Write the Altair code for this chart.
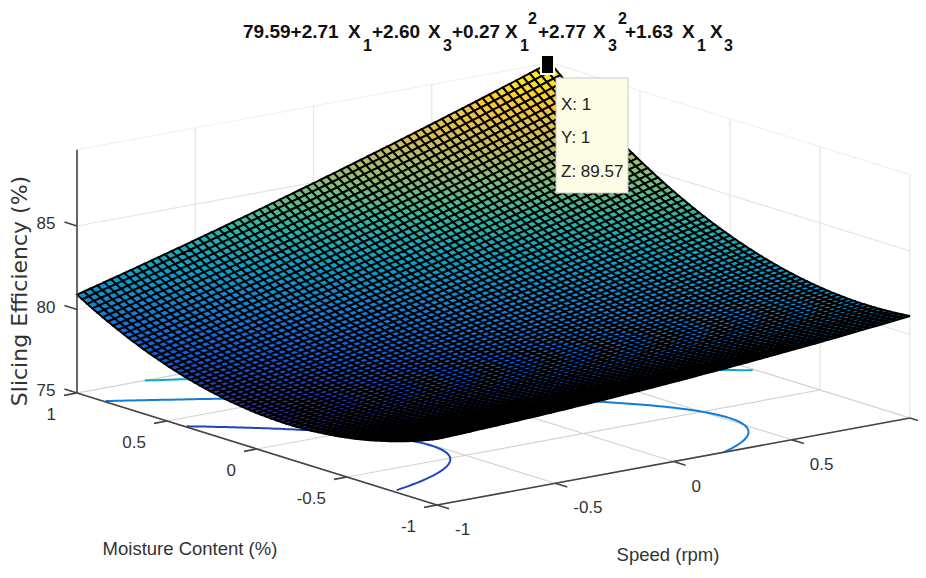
import altair as alt
import numpy as np
import pandas as pd

# Values: the surface is the equation printed in its title
COEF = [79.59, 2.71, 2.60, 0.27, 2.77, 1.63]
XY_TICKS = [-1, -0.5, 0, 0.5, 1]
Z_TICKS = [75, 80, 85]
Z_MIN, Z_MAX = 75, 89.57
CONTOUR_LEVELS = [78, 80, 82, 84, 86, 88]
N_CELLS = 70
DATATIP_LINES = ["X: 1", "Y: 1", "Z: 89.57"]
XY_LABELS = ["-1", "-0.5", "0", "0.5", "1"]
X_TITLE = "Speed (rpm)"
Y_TITLE = "Moisture Content (%)"
Z_TITLE = "Slicing Efficiency (%)"
PARULA_POS = [0, .125, .25, .375, .5, .625, .75, .875, 1]
PARULA = ["#352a87", "#0f5cdd", "#1481d6", "#06a4ca", "#2eb7a4", "#87bf77", "#d1bb59", "#fec832", "#f9fb0e"]

W, H = 910, 562
SANS = "Liberation Sans"
INK = "#333333"


def zfun(u, v):
    c = COEF
    return c[0] + c[1]*u + c[2]*v + c[3]*u*u + c[4]*v*v + c[5]*u*v


def px(u, v):
    return 493.5 + 236.5*u - 180*v


def py(u, v, z=Z_MIN):
    return 405.5 - 43.5*u - 56*v - 16.7*(z - 75)


xs = alt.Scale(domain=[8, 8+W], range=[0, W], nice=False, zero=False)
ys = alt.Scale(domain=[8, 8+H], range=[0, H], nice=False, zero=False)
X = lambda f="x": alt.X(f"{f}:Q", scale=xs, axis=None)
Y = lambda f="y": alt.Y(f"{f}:Q", scale=ys, axis=None)
Z_DOM = 77.07
stops = [Z_DOM + p*(Z_MAX-Z_DOM) for p in PARULA_POS]
cscale = alt.Scale(domain=stops, range=PARULA, interpolate="rgb", clamp=True)


def segs(rows):
    return pd.DataFrame(rows, columns=["x", "y", "x2", "y2"])


def rule_layer(rows, color, width):
    return alt.Chart(segs(rows)).mark_rule(color=color, strokeWidth=width).encode(
        x=X("x"), y=Y("y"), x2="x2:Q", y2="y2:Q")


# floor grid, wall grid, faint wall tops
floor, walls = [], []
for t in XY_TICKS:
    floor.append([px(t, -1), py(t, -1), px(t, 1), py(t, 1)])
    floor.append([px(-1, t), py(-1, t), px(1, t), py(1, t)])
    walls.append([px(t, 1), py(t, 1), px(t, 1), py(t, 1, Z_MAX)])
    walls.append([px(1, t), py(1, t), px(1, t), py(1, t, Z_MAX)])
for z in Z_TICKS:
    walls.append([px(-1, 1), py(-1, 1, z), px(1, 1), py(1, 1, z)])
    walls.append([px(1, 1), py(1, 1, z), px(1, -1), py(1, -1, z)])
tops = [[px(-1, 1), py(-1, 1, Z_MAX), px(1, 1), py(1, 1, Z_MAX)],
        [px(1, 1), py(1, 1, Z_MAX), px(1, -1), py(1, -1, Z_MAX)]]
walls_layer = rule_layer(walls, "#e4e4e4", 1.2)
tops_layer = rule_layer(tops, "#f1f1f1", 1.2)
floor_layer = rule_layer(floor, "#d4d4d4", 1.2)

# contours on floor
rows = []
a = COEF[3]
for L in CONTOUR_LEVELS:
    for v in np.arange(-1, 1.0001, 0.01):
        b = COEF[1] + COEF[5]*v
        c = COEF[0] + COEF[2]*v + COEF[4]*v*v - L
        d = b*b - 4*a*c
        if d < 0:
            continue
        u = (-b + np.sqrt(d)) / (2*a)
        if -1 <= u <= 1:
            rows.append(dict(x=px(u, v), y=py(u, v), level=L, k=v))
contour_layer = alt.Chart(pd.DataFrame(rows)).mark_line(strokeWidth=2).encode(
    x=X(), y=Y(), detail="level:N", order="k:Q",
    stroke=alt.Stroke("level:Q", scale=cscale, legend=None))

# surface as polygons, painted back to front
grid_pts = np.linspace(-1, 1, N_CELLS + 1)
features = []
for i in range(N_CELLS - 1, -1, -1):
    for j in range(N_CELLS - 1, -1, -1):
        corners = [(grid_pts[i], grid_pts[j]), (grid_pts[i+1], grid_pts[j]),
                   (grid_pts[i+1], grid_pts[j+1]), (grid_pts[i], grid_pts[j+1])]
        ring = [[round(px(u, v) - 8, 2), round(py(u, v, zfun(u, v)) - 8, 2)] for u, v in corners]
        ring.append(ring[0])
        features.append({"type": "Feature", "properties": {"z": float(np.mean([zfun(u, v) for u, v in corners]))},
                         "geometry": {"type": "Polygon", "coordinates": [ring]}})
surface = alt.Chart(alt.InlineData(values={"type": "FeatureCollection", "features": features},
                                   format=alt.DataFormat(property="features", type="json"))
                    ).mark_geoshape(stroke="#000000", strokeWidth=1.95).encode(
    fill=alt.Fill("properties.z:Q", scale=cscale, legend=None)
).project(type="identity", scale=1, translate=[0, 0])

# axes
axes = [[px(-1, 1), py(-1, 1), px(-1, -1), py(-1, -1)],
        [px(-1, -1), py(-1, -1), px(1, -1), py(1, -1)],
        [px(-1, 1), py(-1, 1), px(-1, 1), py(-1, 1, Z_MAX)]]
for t in XY_TICKS:
    axes.append([px(-1, t), py(-1, t), px(-1.055, t), py(-1.055, t)])
    axes.append([px(t, -1), py(t, -1), px(t, -1.067), py(t, -1.067)])
for z in Z_TICKS:
    axes.append([px(-1, 1), py(-1, 1, z), px(-1, 1.07), py(-1, 1.07, z)])
axes_layer = rule_layer(axes, "#444444", 1.6)


def text_layer(rows, **kw):
    return alt.Chart(pd.DataFrame(rows)).mark_text(**kw).encode(x=X(), y=Y(), text="t:N")


tick_style = dict(font=SANS, fontSize=17, color=INK, baseline="middle")
moist = text_layer([dict(x=px(-1, t) - 21, y=py(-1, t) + 22, t=s) for t, s in zip(XY_TICKS, XY_LABELS)],
                   align="right", **tick_style)
speed = text_layer([dict(x=px(t, -1) + 18, y=py(t, -1) + 25, t=s)
                    for t, s in zip(XY_TICKS[:-1], XY_LABELS[:-1])], align="left", **tick_style)
zlab = text_layer([dict(x=46, y=py(-1, 1, z) - 2, t=str(z)) for z in Z_TICKS], align="center", **tick_style)

titles = text_layer([dict(x=190, y=549, t=Y_TITLE), dict(x=668, y=555, t=X_TITLE)],
                    font=SANS, fontSize=18.5, color=INK, align="center", baseline="middle")
ztitle = text_layer([dict(x=20, y=291, t=Z_TITLE)], font="DejaVu Sans", fontSize=22, color=INK,
                    align="center", baseline="middle", angle=270)

# equation title
MAIN_PIECES = [("79.59+2.71", 243), ("X", 348), ("+2.60", 372), ("X", 428), ("+0.27", 452), ("X", 505),
               ("+2.77", 538), ("X", 593), ("+1.63", 625), ("X", 682), ("X", 710)]
SUB_PIECES = [("1", 363), ("3", 443), ("1", 520), ("3", 608), ("1", 697), ("3", 724)]
SUP_PIECES = [("2", 528), ("2", 618)]
eq_style = dict(font=SANS, fontWeight="bold", color="#111111", align="left", baseline="alphabetic")
eq = [text_layer([dict(x=x, y=38, t=s) for s, x in MAIN_PIECES], fontSize=19, **eq_style),
      text_layer([dict(x=x, y=51, t=s) for s, x in SUB_PIECES], fontSize=16, **eq_style),
      text_layer([dict(x=x, y=24, t=s) for s, x in SUP_PIECES], fontSize=16, **eq_style)]

# data tip
tip_box = alt.Chart(pd.DataFrame([dict(x=556, y=78, x2=628, y2=193)])).mark_rect(
    fill="#fdfde6", stroke="#c8c8c8", strokeWidth=1).encode(x=X(), y=Y(), x2="x2:Q", y2="y2:Q")
tip_text = text_layer([dict(x=561, y=yy, t=s) for s, yy in zip(DATATIP_LINES, [105, 138, 172])],
                      font=SANS, fontSize=17, color="#222222", align="left", baseline="middle")
marker = alt.Chart(pd.DataFrame([dict(x=541, y=55, x2=554, y2=74)])).mark_rect(
    fill="#000000", stroke="#fffff0", strokeWidth=2).encode(x=X(), y=Y(), x2="x2:Q", y2="y2:Q")

chart = alt.layer(tops_layer, walls_layer, floor_layer, contour_layer, surface, axes_layer,
                  moist, speed, zlab, titles, ztitle, *eq, tip_box, tip_text, marker).properties(
    width=W, height=H, padding=0, autosize=alt.AutoSizeParams(type="none"),
    background="white").configure_view(stroke=None)

chart.save("out.html", embed_options={"renderer": "svg", "actions": False})
